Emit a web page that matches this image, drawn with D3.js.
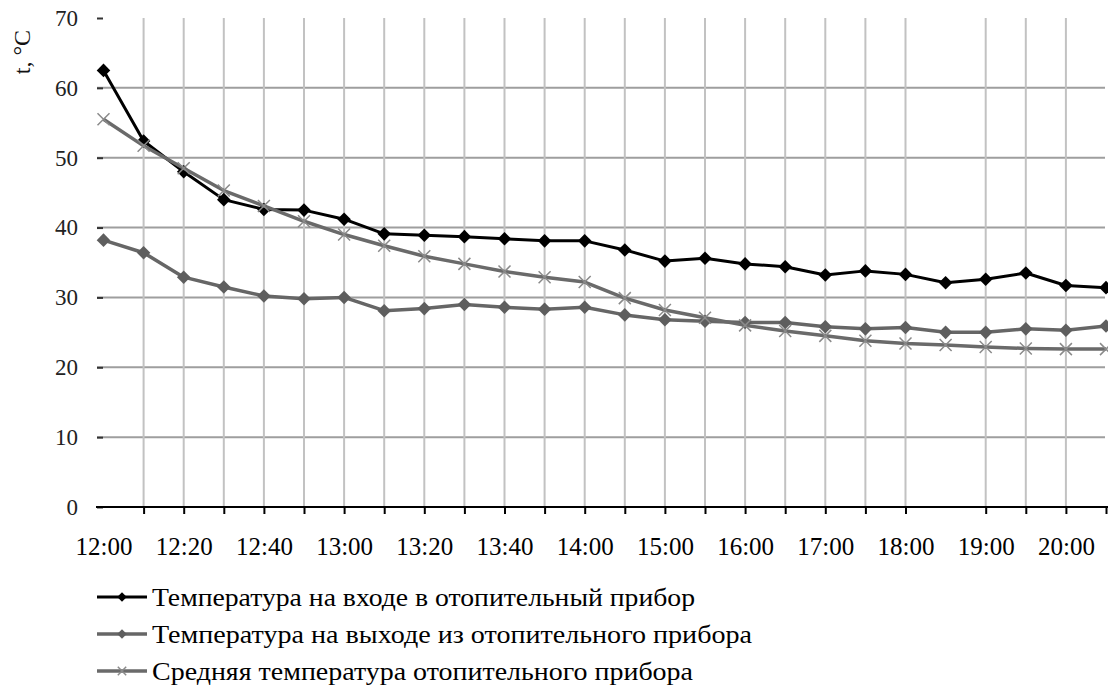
<!DOCTYPE html>
<html>
<head>
<meta charset="utf-8">
<script src="https://cdn.jsdelivr.net/npm/d3@7"></script>
<style>
    html, body { margin: 0; padding: 0; background: #fff; }
    svg { display: block; }
</style>
</head>
<body>
<div id="chart"></div>
<script>
// Time stamps along the x axis
const categories = ['12:00', '12:10', '12:20', '12:30', '12:40', '12:50', '13:00', '13:10', '13:20',
    '13:30', '13:40', '13:50', '14:00', '14:30', '15:00', '15:30', '16:00', '16:30', '17:00',
    '17:30', '18:00', '18:30', '19:00', '19:30', '20:00', '20:30'];

// Labelled ticks on the x axis
const xTickLabels = ['12:00', '12:20', '12:40', '13:00', '13:20', '13:40', '14:00',
    '15:00', '16:00', '17:00', '18:00', '19:00', '20:00'];

const yTicks = [0, 10, 20, 30, 40, 50, 60, 70];

// Inlet temperature
const inletTemp = [62.5, 52.4, 48.0, 44.0, 42.6, 42.5, 41.2, 39.1, 38.9, 38.7, 38.4, 38.1, 38.1,
    36.8, 35.2, 35.6, 34.8, 34.4, 33.2, 33.8, 33.3, 32.1, 32.6, 33.5, 31.7, 31.4];

// Outlet temperature
const outletTemp = [38.2, 36.4, 32.9, 31.5, 30.2, 29.8, 30.0, 28.1, 28.4, 29.0, 28.6, 28.3, 28.6,
    27.5, 26.8, 26.6, 26.4, 26.4, 25.8, 25.5, 25.7, 25.0, 25.0, 25.5, 25.3, 25.9];

// Mean temperature
const meanTemp = [55.5, 51.7, 48.5, 45.3, 43.1, 40.9, 39.0, 37.4, 35.9, 34.8, 33.7, 32.9, 32.2,
    29.9, 28.2, 27.1, 26.0, 25.2, 24.5, 23.8, 23.4, 23.2, 22.9, 22.7, 22.6, 22.6];

const seriesNames = [
    'Температура на входе в отопительный прибор',
    'Температура на выходе из отопительного прибора',
    'Средняя температура отопительного прибора'
];

const FONT = '"Liberation Serif", "Times New Roman", serif';
const width = 1108;
const height = 687;
const plot = { left: 97, right: 1106, top: 18, bottom: 507 };

const svg = d3.select('#chart')
    .append('svg')
    .attr('width', width)
    .attr('height', height);

const x = d3.scalePoint()
    .domain(categories)
    .range([103.5, 1106]);

const y = d3.scaleLinear()
    .domain([0, 70])
    .range([plot.bottom, plot.top]);

// Horizontal grid
svg.append('g')
    .selectAll('line')
    .data(yTicks.filter(v => v > 0 && v < 70))
    .enter()
    .append('line')
    .attr('x1', plot.left)
    .attr('x2', 1105)
    .attr('y1', d => y(d))
    .attr('y2', d => y(d))
    .attr('stroke', '#9e9e9e')
    .attr('stroke-width', 2);

// Vertical grid (none at the first category, one missing at 18:30 as in the source)
const gridCats = categories.filter((c, i) => i > 0 && i < categories.length - 1 && c !== '18:30');
svg.append('g')
    .selectAll('line')
    .data(gridCats)
    .enter()
    .append('line')
    .attr('x1', d => x(d))
    .attr('x2', d => x(d))
    .attr('y1', plot.top)
    .attr('y2', plot.bottom)
    .attr('stroke', '#c2c2c2')
    .attr('stroke-width', 2);

// Y axis
const yAxis = svg.append('g')
    .attr('transform', `translate(${plot.left + 6},0)`)
    .call(d3.axisLeft(y).tickValues(yTicks).tickSize(6).tickPadding(19));
yAxis.select('.domain').remove();
yAxis.selectAll('line').attr('stroke', '#333').attr('stroke-width', 2);
yAxis.selectAll('text')
    .attr('fill', '#222')
    .style('font-family', FONT)
    .style('font-size', '23px');

// X axis: line and ticks
svg.append('line')
    .attr('x1', 96)
    .attr('x2', width)
    .attr('y1', plot.bottom)
    .attr('y2', plot.bottom)
    .attr('stroke', '#000')
    .attr('stroke-width', 2);

const tickCats = categories.filter((c, i) => i > 0 && c !== '18:30');
const xTicks = svg.append('g')
    .attr('transform', `translate(0,${plot.bottom})`)
    .call(d3.axisBottom(x).tickValues(tickCats).tickSize(7).tickFormat(''));
xTicks.select('.domain').remove();
xTicks.selectAll('line').attr('stroke', '#000').attr('stroke-width', 2);

const xLabels = svg.append('g')
    .attr('transform', `translate(0,${plot.bottom})`)
    .call(d3.axisBottom(x).tickValues(xTickLabels).tickSize(0).tickPadding(30));
xLabels.select('.domain').remove();
xLabels.selectAll('text')
    .attr('fill', '#000')
    .style('font-family', FONT)
    .style('font-size', '25px');

// Y axis title
svg.append('text')
    .attr('transform', 'translate(30,52) rotate(-90)')
    .attr('text-anchor', 'middle')
    .style('font-family', FONT)
    .style('font-size', '24px')
    .attr('fill', '#111')
    .text('t, °C');

// Series
const series = [
    { name: seriesNames[0], values: inletTemp, color: '#000', width: 3, marker: 'diamond', markerColor: '#000' },
    { name: seriesNames[1], values: outletTemp, color: '#666', width: 3.5, marker: 'diamond', markerColor: '#5e5e5e' },
    { name: seriesNames[2], values: meanTemp, color: '#6a6a6a', width: 3.5, marker: 'x', markerColor: '#8a8a8a' }
];

const line = d3.line()
    .x((d, i) => x(categories[i]))
    .y(d => y(d));

function drawMarker(g, s, cx, cy, scale) {
    if (s.marker === 'diamond') {
        g.append('path')
            .attr('d', d3.symbol(d3.symbolSquare, 92 * scale * scale)())
            .attr('transform', `translate(${cx},${cy}) rotate(45)`)
            .attr('fill', s.markerColor);
    } else {
        const r = 6 * scale;
        g.append('path')
            .attr('d', `M${-r},${-r}L${r},${r}M${-r},${r}L${r},${-r}`)
            .attr('transform', `translate(${cx},${cy})`)
            .attr('stroke', s.markerColor)
            .attr('stroke-width', 1.5)
            .attr('fill', 'none');
    }
}

series.forEach(s => {
    const g = svg.append('g');
    g.append('path')
        .datum(s.values)
        .attr('d', line)
        .attr('fill', 'none')
        .attr('stroke', s.color)
        .attr('stroke-width', s.width)
        .attr('stroke-linejoin', 'round');
    s.values.forEach((v, i) => drawMarker(g, s, x(categories[i]), y(v), 1));
});

// Legend
const legendRows = [597, 634, 671];
const legendLengths = [543, 600, 541];
series.forEach((s, i) => {
    const g = svg.append('g');
    const ly = legendRows[i];
    g.append('line')
        .attr('x1', 97)
        .attr('x2', 147)
        .attr('y1', ly)
        .attr('y2', ly)
        .attr('stroke', s.color)
        .attr('stroke-width', s.width);
    drawMarker(g, s, 122, ly, 0.7);
    g.append('text')
        .attr('x', 152)
        .attr('y', ly)
        .attr('dy', '0.34em')
        .attr('textLength', legendLengths[i])
        .attr('lengthAdjust', 'spacingAndGlyphs')
        .style('font-family', FONT)
        .style('font-size', '25px')
        .attr('fill', '#000')
        .text(s.name);
});
</script>
</body>
</html>
